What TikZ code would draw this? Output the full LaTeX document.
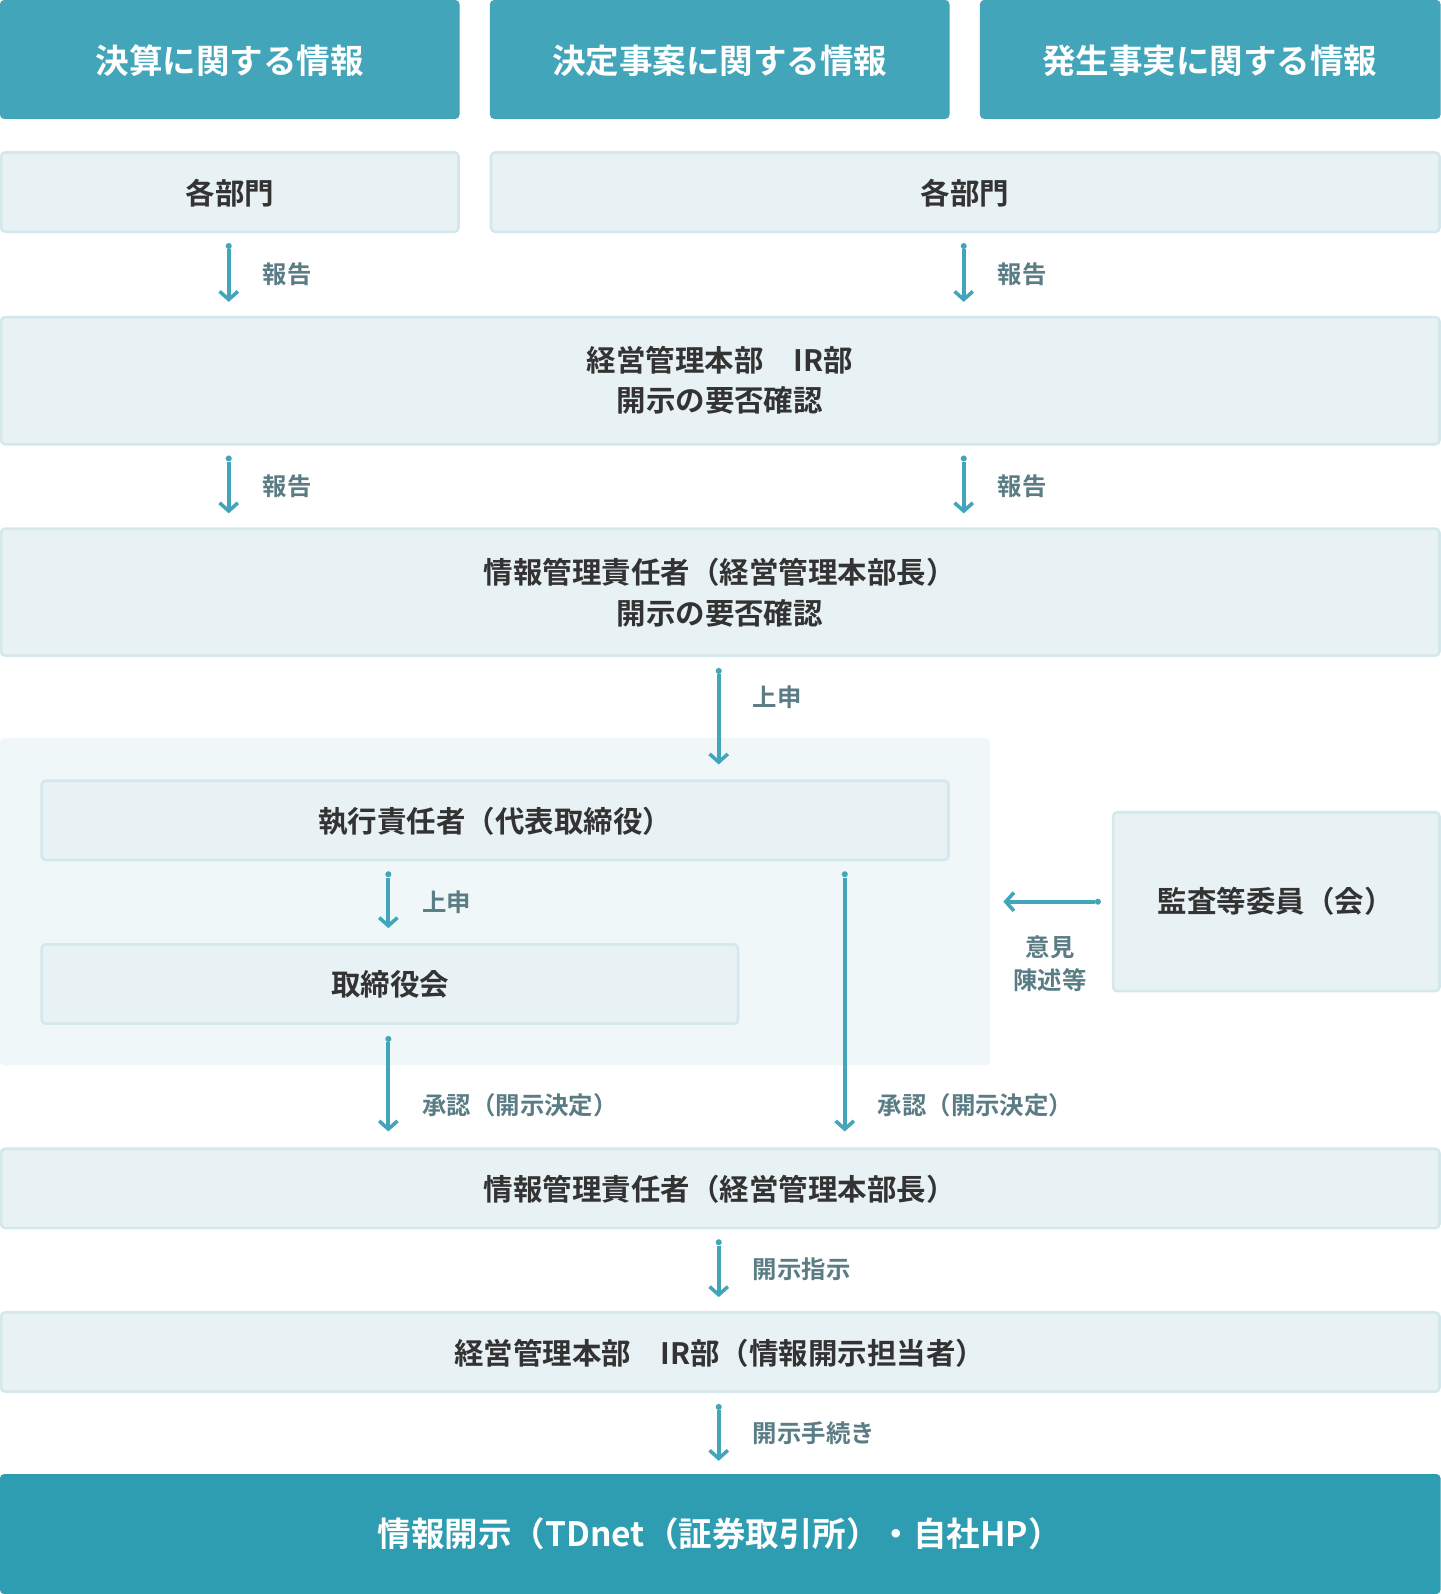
\documentclass[tikz,border=0pt]{standalone}
\usepackage{fontspec}
\newfontfamily\jp{Noto Sans CJK JP}[BoldFont={* Bold}]
\usetikzlibrary{arrows.meta}
\definecolor{teal}{HTML}{42A5BA}
\definecolor{deepteal}{HTML}{2F9DB1}
\definecolor{pale}{HTML}{E8F2F4}
\definecolor{paleline}{HTML}{D3E8ED}
\definecolor{group}{HTML}{F0F7F9}
\definecolor{ink}{HTML}{333333}
\definecolor{lab}{HTML}{5A7C85}
\begin{document}
\begin{tikzpicture}[x=1pt, y=-1pt,
    head/.style={fill=teal, rounded corners=4pt},
    panel/.style={fill=pale, draw=paleline, line width=2.5pt, rounded corners=4pt},
    txt/.style={text=ink, font=\jp\bfseries\fontsize{29}{40}\selectfont, align=center},
    htxt/.style={text=white, font=\jp\bfseries\fontsize{33}{40}\selectfont},
    lbl/.style={text=lab, font=\jp\bfseries\fontsize{24}{32}\selectfont, anchor=west, align=center},
    flow/.style={draw=teal, line width=4pt, -{Straight Barb[length=8pt, width=18pt, line width=3.5pt]}},
    dot/.style={circle, fill=teal, inner sep=0pt, minimum size=6pt}
  ]
  \useasboundingbox (0,0) rectangle (1417,1568);

  % header row
  \fill[head] (0,0) rectangle (452,117);
  \fill[head] (482,0) rectangle (934,117);
  \fill[head] (964,0) rectangle (1417,117);
  \node[htxt] (hkessan) at (226,60) {決算に関する情報};
  \node[htxt] (hkettei) at (708,60) {決定事案に関する情報};
  \node[htxt] (hhassei) at (1190,60) {発生事実に関する情報};

  % departments
  \draw[panel] (1,150) rectangle (451,228);
  \draw[panel] (483,150) rectangle (1416,228);
  \node[txt] (deptA) at (226,190) {各部門};
  \node[txt] (deptB) at (949,190) {各部門};

  \node[dot] (d1) at (225,242) {};
  \coordinate (e1) at (225,297);
  \draw[flow] (d1) -- (e1);
  \node[lbl] (l1) at (255,270) {報告};
  \node[dot] (d2) at (948,242) {};
  \coordinate (e2) at (948,297);
  \draw[flow] (d2) -- (e2);
  \node[lbl] (l2) at (978,270) {報告};

  % IR
  \draw[panel] (1,312) rectangle (1416,437);
  \node[txt] (ir) at (708,374) {経営管理本部\quad IR部\\開示の要否確認};

  \node[dot] (d3) at (225,451) {};
  \coordinate (e3) at (225,505);
  \draw[flow] (d3) -- (e3);
  \node[lbl] (l3) at (255,478) {報告};
  \node[dot] (d4) at (948,451) {};
  \coordinate (e4) at (948,505);
  \draw[flow] (d4) -- (e4);
  \node[lbl] (l4) at (978,478) {報告};

  % manager
  \draw[panel] (1,520) rectangle (1416,645);
  \node[txt] (mgr) at (708,583) {情報管理責任者（経営管理本部長）\\開示の要否確認};

  \node[dot] (d5) at (707,660) {};
  \coordinate (e5) at (707,752);
  \node[lbl] (l5) at (737,686) {上申};

  % executive group
  \fill[group, rounded corners=4pt] (0,726) rectangle (974,1048);
  \draw[flow] (d5) -- (e5);
  \draw[panel] (41,768) rectangle (933,846);
  \node[txt] (exec) at (487,808) {執行責任者（代表取締役）};
  \node[dot] (d6) at (382,860) {};
  \coordinate (e6) at (382,913);
  \draw[flow] (d6) -- (e6);
  \node[lbl] (l6) at (412,887) {上申};
  \draw[panel] (41,929) rectangle (726,1007);
  \node[txt] (board) at (384,968) {取締役会};

  % audit committee
  \draw[panel] (1095,799) rectangle (1416,975);
  \node[txt] (audit) at (1255,887) {監査等委員（会）};
  \node[dot] (d7) at (1080,887) {};
  \coordinate (e7) at (987,887);
  \draw[flow] (d7) -- (e7);
  \node[lbl, anchor=center] (l7) at (1033,948) {意見\\陳述等};

  \node[dot] (d8) at (382,1022) {};
  \coordinate (e8) at (382,1113);
  \draw[flow] (d8) -- (e8);
  \node[lbl] (l8) at (412,1087) {承認（開示決定）};
  \node[dot] (d9) at (831,860) {};
  \coordinate (e9) at (831,1113);
  \draw[flow] (d9) -- (e9);
  \node[lbl] (l9) at (860,1087) {承認（開示決定）};

  % manager 2
  \draw[panel] (1,1130) rectangle (1416,1208);
  \node[txt] (mgr2) at (708,1170) {情報管理責任者（経営管理本部長）};
  \node[dot] (d10) at (707,1222) {};
  \coordinate (e10) at (707,1276);
  \draw[flow] (d10) -- (e10);
  \node[lbl] (l10) at (737,1249) {開示指示};

  \draw[panel] (1,1291) rectangle (1416,1369);
  \node[txt] (staff) at (708,1331) {経営管理本部\quad IR部（情報開示担当者）};
  \node[dot] (d11) at (707,1384) {};
  \coordinate (e11) at (707,1437);
  \draw[flow] (d11) -- (e11);
  \node[lbl] (l11) at (737,1410) {開示手続き};

  % disclosure
  \fill[deepteal, rounded corners=4pt] (0,1450) rectangle (1417,1568);
  \node[htxt] (disc) at (708,1509) {情報開示（TDnet（証券取引所）・自社HP）};
\end{tikzpicture}
\end{document}
